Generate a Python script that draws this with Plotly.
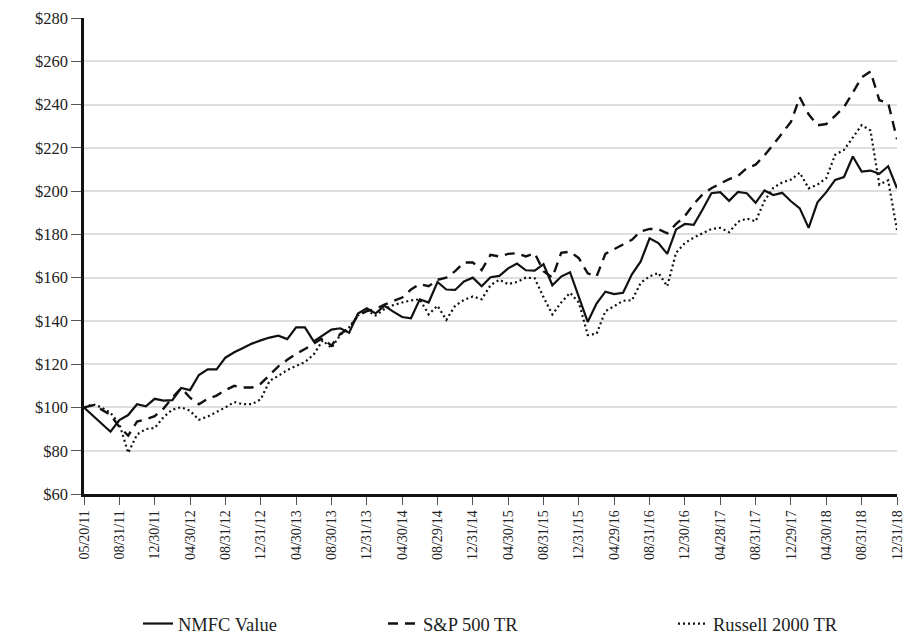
import plotly.graph_objects as go

# Monthly points; every 4th point carries a date label
tick_labels = ["05/20/11", "08/31/11", "12/30/11", "04/30/12", "08/31/12", "12/31/12",
               "04/30/13", "08/30/13", "12/31/13", "04/30/14", "08/29/14", "12/31/14",
               "04/30/15", "08/31/15", "12/31/15", "04/29/16", "08/31/16", "12/30/16",
               "04/28/17", "08/31/17", "12/29/17", "04/30/18", "08/31/18", "12/31/18"]

nmfc = [100, 96.3, 92.5, 88.8, 94.2, 96.5, 101.5, 100.5, 104, 103.2,
        103.4, 109, 108, 115, 117.6, 117.6, 123, 125.5, 127.5, 129.5,
        131, 132.3, 133.2, 131.6, 137, 137, 130.5, 133.3, 136, 136.6,
        134.5, 143.4, 145.8, 143.5, 147, 144.3, 141.8, 141.2, 150, 148.5,
        158, 154.5, 154.3, 158.2, 160, 156, 160.2, 160.8, 164.3, 166.5,
        163.4, 163.2, 166.2, 156.5, 160.5, 162.5, 151, 139.5, 148, 153.5,
        152.4, 153, 161.5, 167.5, 178.2, 176, 171, 182.3, 184.8, 184.4,
        191.5, 199, 199.5, 195.5, 199.6, 199, 194.6, 200.3, 198.2, 199.2,
        195.3, 192, 183, 194.8, 199.5, 205.2, 206.5, 216, 209, 209.5,
        208, 211.5, 201.3]

sp500 = [100, 101, 99, 96.5, 91, 87, 93.5, 94.5, 96, 99.5,
         104.5, 109, 104.5, 101.5, 104, 105.5, 108, 110, 109.2, 109.2,
         111, 115, 119, 122, 124.8, 127, 129.5, 132, 128.5, 134,
         136.5, 142.5, 144.5, 145.5, 147.5, 149.2, 150.8, 154.5, 157, 156,
         159, 160, 163, 167, 167, 163.5, 170.5, 169.8, 171, 171.3,
         169.8, 171.3, 163, 160, 171.5, 172, 169, 162, 160.5, 171,
         173, 175.3, 177.5, 181.4, 182.5, 182.4, 180.5, 184.8, 188.5, 194,
         198.5, 201.3, 203.5, 205.5, 207, 210.6, 212.2, 216.5, 221.5, 226.5,
         232, 243.3, 235.5, 230.4, 231, 234.8, 238.8, 245.5, 252.5, 255.3,
         242, 240.8, 224]

russell = [100, 101.5, 100, 97.5, 92.5, 79, 87.5, 90, 90.5, 95.5,
           99, 100.1, 98.5, 94.3, 95.8, 97.8, 100, 102.5, 101.5, 101.5,
           103.8, 112.3, 114.6, 117.3, 119, 121, 124.5, 131, 127.5, 133.5,
           137, 142.5, 144.8, 142.5, 145.5, 147.3, 148.5, 149.5, 150, 143,
           147, 140.5, 147, 149.7, 151.3, 150, 156.5, 159, 157, 158,
           160, 159.7, 151, 143, 148.5, 153, 148.5, 133.5, 134, 144.5,
           146.8, 149.3, 149.5, 157.6, 160.6, 162.2, 156, 171.5, 176, 178.5,
           180.5, 182.5, 183, 181, 185.8, 187.3, 186, 195.5, 201.5, 204,
           205.3, 208.5, 201.3, 203, 206, 216.8, 219, 224.5, 230.5, 228,
           203, 205, 182]

x = list(range(len(nmfc)))
tick_vals = list(range(0, len(nmfc), 4))

W, H = 906, 643

fig = go.Figure()
fig.add_trace(go.Scatter(x=x, y=nmfc, mode="lines", name="NMFC Value", legend="legend",
                         line=dict(color="#111111", width=2.2, dash="solid")))
fig.add_trace(go.Scatter(x=x, y=sp500, mode="lines", name="S&P 500 TR", legend="legend2",
                         line=dict(color="#111111", width=2.4, dash="10px,7px")))
fig.add_trace(go.Scatter(x=x, y=russell, mode="lines", name="Russell 2000 TR", legend="legend3",
                         line=dict(color="#111111", width=2.2, dash="2px,3px")))

leg_common = dict(orientation="h", xref="container", yref="container", y=0.0,
                  yanchor="bottom", xanchor="left", itemwidth=30,
                  font=dict(size=18.5, family="Liberation Serif", color="#222222"))

fig.update_layout(
    width=W, height=H,
    margin=dict(l=84, r=9, t=18, b=149, autoexpand=False),
    paper_bgcolor="white", plot_bgcolor="white",
    font=dict(family="Liberation Serif", color="#222222", size=14),
    showlegend=True,
    legend=dict(x=138 / W, **leg_common),
    legend2=dict(x=383 / W, **leg_common),
    legend3=dict(x=673 / W, **leg_common),
)
fig.update_xaxes(
    range=[0, len(nmfc) - 1], tickmode="array", tickvals=tick_vals, ticktext=tick_labels,
    tickangle=-90, tickfont=dict(size=14, family="Liberation Serif"),
    showgrid=False, zeroline=False, automargin=False,
    showline=True, linecolor="#111111", linewidth=2.5,
    ticks="outside", ticklen=8, tickcolor="#555555", tickwidth=1,
)
fig.update_yaxes(
    range=[60, 280], dtick=20, tickprefix="$",
    tickfont=dict(size=16.5, family="Liberation Serif"),
    showgrid=True, gridcolor="#dedede", gridwidth=1.5, zeroline=False, automargin=False,
    showline=True, linecolor="#111111", linewidth=2.5,
    ticks="outside", ticklen=10, tickcolor="#555555", tickwidth=1,
)

fig.write_html("out.html", config={"displayModeBar": False},
               post_script="document.body.style.margin='0';document.body.style.overflow='hidden';")
